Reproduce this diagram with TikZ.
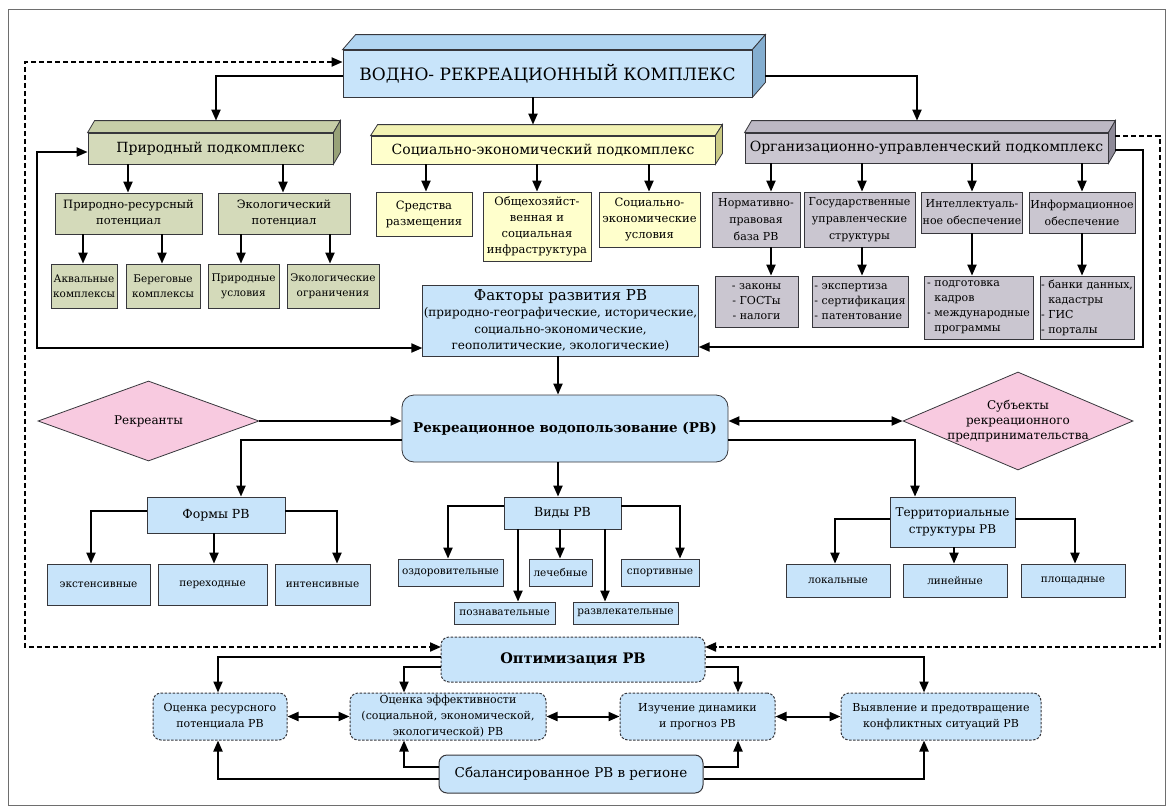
\documentclass[tikz,border=0pt]{standalone}
\usepackage{fontspec}
\setmainfont{DejaVu Serif}
\usetikzlibrary{arrows.meta,calc,shapes.geometric}
\definecolor{bluef}{RGB}{200,228,250}
\definecolor{bluet}{RGB}{178,214,242}
\definecolor{blues}{RGB}{132,174,208}
\definecolor{greenf}{RGB}{212,218,186}
\definecolor{greent}{RGB}{198,206,168}
\definecolor{greens}{RGB}{152,162,120}
\definecolor{yelf}{RGB}{255,255,204}
\definecolor{yelt}{RGB}{242,242,180}
\definecolor{yels}{RGB}{202,202,132}
\definecolor{grayf}{RGB}{202,198,208}
\definecolor{grayt}{RGB}{188,184,196}
\definecolor{grays}{RGB}{142,138,152}
\definecolor{pinkf}{RGB}{248,202,224}
\definecolor{edge}{RGB}{55,55,60}
\definecolor{framec}{RGB}{110,110,110}
\tikzset{
  edgeline/.style={draw=edge,line width=0.8pt},
  wh/.style n args={2}{minimum width=#1pt,minimum height=#2pt},
  box/.style={edgeline,inner sep=1pt,align=center,font=\fontsize{11.5}{16}\selectfont},
  gbox/.style={box,fill=greenf},
  ybox/.style={box,fill=yelf},
  pbox/.style={box,fill=grayf,font=\fontsize{11}{17}\selectfont},
  plist/.style={box,fill=grayf,font=\fontsize{11}{15}\selectfont},
  bbox/.style={box,fill=bluef},
  sbox/.style={box,fill=bluef,font=\fontsize{10.5}{14}\selectfont},
  head/.style={box,font=\fontsize{14}{18}\selectfont},
  rbox/.style={bbox,rounded corners=8pt,dash pattern=on 2.5pt off 1.5pt,line width=1pt,font=\fontsize{11}{16}\selectfont},
  dia/.style={diamond,edgeline,fill=pinkf,inner sep=0pt},
  diatext/.style={align=center,font=\fontsize{12}{15}\selectfont},
  arr/.style={line width=2pt,-{Triangle[length=11pt,width=9pt]}},
  arr2/.style={line width=2pt,{Triangle[length=11pt,width=9pt]}-{Triangle[length=11pt,width=9pt]}},
  darr/.style={arr,dash pattern=on 5pt off 3pt},
  darr2/.style={arr2,dash pattern=on 5pt off 3pt}
}
\newcommand{\threed}[5]{%
  \draw[edgeline,fill=#4] (#1.north west) -- ++(#2,#3) -- ($(#1.north east)+(#2,#3)$) -- (#1.north east) -- cycle;
  \draw[edgeline,fill=#5] (#1.north east) -- ++(#2,#3) -- ($(#1.south east)+(#2,#3)$) -- (#1.south east) -- cycle;}
\newcommand{\vv}[3]{\draw[arr] (#1,0 |- #2.south) -- (#1,0 |- #3.north);}
\begin{document}
\begin{tikzpicture}[x=1pt,y=-1pt]
\useasboundingbox (0,0) rectangle (1173,811);
\draw[framec,line width=1pt] (8,9) rectangle (1165,805);

% top level
\node[box,fill=bluef,wh={409}{47},font=\fontsize{17}{21}\selectfont] (main) at (547.5,73.5) {ВОДНО- РЕКРЕАЦИОННЫЙ КОМПЛЕКС};
\threed{main}{13}{-15}{bluet}{blues}
\node[head,fill=greenf,wh={245}{31}] (nat) at (210.5,148.5) {Природный подкомплекс};
\threed{nat}{7}{-12}{greent}{greens}
\node[head,fill=yelf,wh={344}{28}] (soc) at (543,150) {Социально-экономический подкомплекс};
\threed{soc}{7}{-11}{yelt}{yels}
\node[head,fill=grayf,wh={363}{30}] (org) at (926.5,148) {Организационно-управленческий подкомплекс};
\threed{org}{7}{-12}{grayt}{grays}

% natural
\node[gbox,wh={147}{41}] (pr1) at (128.5,213.5) {Природно-ресурсный\\потенциал};
\node[gbox,wh={132}{41}] (pr2) at (284,213.5) {Экологический\\потенциал};
\node[gbox,wh={66}{44},font=\fontsize{10.5}{15}\selectfont] (pa) at (84,286) {Аквальные\\комплексы};
\node[gbox,wh={74}{44},font=\fontsize{10.5}{15}\selectfont] (pb) at (163,286) {Береговые\\комплексы};
\node[gbox,wh={71}{44},font=\fontsize{10.5}{15}\selectfont] (pc) at (243.5,286) {Природные\\условия};
\node[gbox,wh={92}{44},font=\fontsize{10.5}{15}\selectfont] (pd) at (333,286) {Экологические\\ограничения};
\vv{128}{nat}{pr1}
\vv{283}{nat}{pr2}
\vv{83}{pr1}{pa}
\vv{162}{pr1}{pb}
\vv{241}{pr2}{pc}
\vv{330}{pr2}{pd}

% socio-economic
\node[ybox,wh={96}{44}] (s1) at (424,214) {Средства\\размещения};
\node[ybox,wh={108}{69}] (s2) at (537,226.5) {Общехозяйст-\\венная и\\социальная\\инфраструктура};
\node[ybox,wh={101}{55}] (s3) at (649.5,219.5) {Социально-\\экономические\\условия};
\vv{426}{soc}{s1}
\vv{537}{soc}{s2}
\vv{649}{soc}{s3}

% organisational
\node[pbox,wh={88}{55}] (o1) at (756,219.5) {Нормативно-\\правовая\\база РВ};
\node[pbox,wh={111}{55}] (o2) at (859.5,219.5) {Государственные\\управленческие\\структуры};
\node[pbox,wh={100}{41}] (o3) at (972,212.5) {Интеллектуаль-\\ное обеспечение};
\node[pbox,wh={106}{41}] (o4) at (1082,212.5) {Информационное\\обеспечение};
\node[plist,wh={83}{51}] (l1) at (756.5,301.5) {- законы\\- ГОСТы\\- налоги};
\node[plist,wh={96}{51},align=left] (l2) at (860,301.5) {- экспертиза\\- сертификация\\- патентование};
\node[plist,wh={109}{63},align=left] (l3) at (978.5,307.5) {- подготовка\\\phantom{- }кадров\\- международные\\\phantom{- }программы};
\node[plist,wh={94}{63},align=left] (l4) at (1087,307.5) {- банки данных,\\\phantom{- }кадастры\\- ГИС\\- порталы};
\vv{771}{org}{o1}
\vv{862}{org}{o2}
\vv{972}{org}{o3}
\vv{1082}{org}{o4}
\vv{771}{o1}{l1}
\vv{862}{o2}{l2}
\vv{972}{o3}{l3}
\vv{1082}{o4}{l4}

% factors
\node[bbox,wh={275}{71},font=\fontsize{12}{16.5}\selectfont] (fac) at (560.5,320.5) {{\fontsize{15}{18}\selectfont Факторы развития РВ}\\(природно-географические, исторические,\\социально-экономические,\\геополитические, экологические)};

% connectors top
\draw[arr] (main.west |- 0,76) -| ($(nat.north)+(5.5,-12)$);
\draw[arr] (533,0 |- main.south) -- ($(soc.north)+(-10,-11)$);
\draw[arr] ($(main.east |- 0,76)+(13,0)$) -| ($(org.north)+(-9.5,-12)$);
\draw[darr2] (main.west |- 0,62) -- (25,62) -- (25,647) -- (441,647);
\draw[darr] ($(org.east |- 0,136)+(7,0)$) -- (1160,136) -- (1160,647) -- (705,647);
\draw[arr2] (nat.west |- 0,152) -- (37,152) -- (37,348) -- (fac.west |- 0,348);
\draw[arr] ($(org.east |- 0,150)+(7,0)$) -- (1143,150) -- (1143,347) -- (fac.east |- 0,347);

% recreational water use
\node[bbox,rounded corners=12pt,wh={326}{67},font=\bfseries\fontsize{13.5}{18}\selectfont] (rv) at (565,428.5) {Рекреационное водопользование (РВ)};
\draw[arr] (558,0 |- fac.south) -- (558,0 |- rv.north);
\node[dia,minimum width=221pt,minimum height=80pt,label={[diatext]center:Рекреанты}] (rek) at (148.5,421) {};
\node[dia,minimum width=230pt,minimum height=98pt,label={[diatext]center:{Субъекты\\рекреационного\\предпринимательства}}] (subj) at (1018,421) {};
\draw[arr] (rek.east) -- (rek.east -| rv.west);
\draw[arr2] (rv.east |- subj.west) -- (subj.west);

% forms
\node[bbox,wh={138}{36},font=\fontsize{12.5}{16}\selectfont] (forms) at (216,515) {Формы РВ};
\draw[arr] (rv.west |- 0,440) -| (241,0 |- forms.north);
\node[sbox,wh={103}{41}] (f1) at (98.5,584.5) {экстенсивные};
\node[sbox,wh={109}{41}] (f2) at (212.5,584.5) {переходные};
\node[sbox,wh={95}{41}] (f3) at (322.5,584.5) {интенсивные};
\draw[arr] (forms.west |- 0,511) -| (91,0 |- f1.north);
\vv{214}{forms}{f2}
\draw[arr] (forms.east |- 0,511) -| (337,0 |- f3.north);

% kinds
\node[bbox,wh={117}{32},font=\fontsize{12.5}{16}\selectfont] (kinds) at (562.5,513) {Виды РВ};
\draw[arr] (558,0 |- rv.south) -- (558,0 |- kinds.north);
\node[sbox,wh={105}{27}] (k1) at (450.5,572.5) {оздоровительные};
\node[sbox,wh={63}{27}] (k2) at (560.5,572.5) {лечебные};
\node[sbox,wh={78}{27}] (k3) at (660,572.5) {спортивные};
\node[sbox,wh={101}{22}] (k4) at (504.5,613) {познавательные};
\node[sbox,wh={105}{22}] (k5) at (625.5,613) {развлекательные};
\draw[arr] (kinds.west |- 0,506) -| (448,0 |- k1.north);
\draw[arr] (kinds.east |- 0,506) -| (680,0 |- k3.north);
\vv{518}{kinds}{k4}
\vv{560}{kinds}{k2}
\vv{605}{kinds}{k5}

% territorial
\node[bbox,wh={125}{50},font=\fontsize{12}{17}\selectfont] (terr) at (952.5,522) {Территориальные\\структуры РВ};
\draw[arr] (rv.east |- 0,440) -| (915,0 |- terr.north);
\node[sbox,wh={104}{33}] (t1) at (838,580.5) {локальные};
\node[sbox,wh={104}{33}] (t2) at (955,580.5) {линейные};
\node[sbox,wh={104}{33}] (t3) at (1073,580.5) {площадные};
\draw[arr] (terr.west |- 0,519) -| (835,0 |- t1.north);
\vv{954}{terr}{t2}
\draw[arr] (terr.east |- 0,519) -| (1075,0 |- t3.north);

% optimisation
\node[rbox,wh={264}{45},font=\bfseries\fontsize{14.5}{18}\selectfont] (opt) at (573,659.5) {Оптимизация РВ};
\node[rbox,wh={134}{47}] (ocr) at (220,716.5) {Оценка ресурсного\\потенциала РВ};
\node[rbox,wh={196}{47}] (oce) at (448,716.5) {Оценка эффективности\\(социальной, экономической,\\экологической) РВ};
\node[rbox,wh={155}{47}] (izu) at (697.5,716.5) {Изучение динамики\\и прогноз РВ};
\node[rbox,wh={200}{47}] (vyy) at (941,716.5) {Выявление и предотвращение\\конфликтных ситуаций РВ};
\node[bbox,rounded corners=8pt,line width=1pt,wh={264}{38},font=\fontsize{13.5}{17}\selectfont] (bal) at (571,774) {Сбалансированное РВ в регионе};
\draw[arr2] (ocr.east) -- (oce.west);
\draw[arr2] (oce.east) -- (izu.west);
\draw[arr2] (izu.east) -- (vyy.west);
\draw[arr] (opt.west |- 0,657) -| (218,0 |- ocr.north);
\draw[arr] (opt.west |- 0,667) -| (404,0 |- oce.north);
\draw[arr] (opt.east |- 0,657) -| (924,0 |- vyy.north);
\draw[arr] (opt.east |- 0,667) -| (738,0 |- izu.north);
\draw[arr] (bal.west |- 0,767) -| (404,0 |- oce.south);
\draw[arr] (bal.west |- 0,779) -| (218,0 |- ocr.south);
\draw[arr] (bal.east |- 0,767) -| (738,0 |- izu.south);
\draw[arr] (bal.east |- 0,779) -| (924,0 |- vyy.south);
\end{tikzpicture}
\end{document}
